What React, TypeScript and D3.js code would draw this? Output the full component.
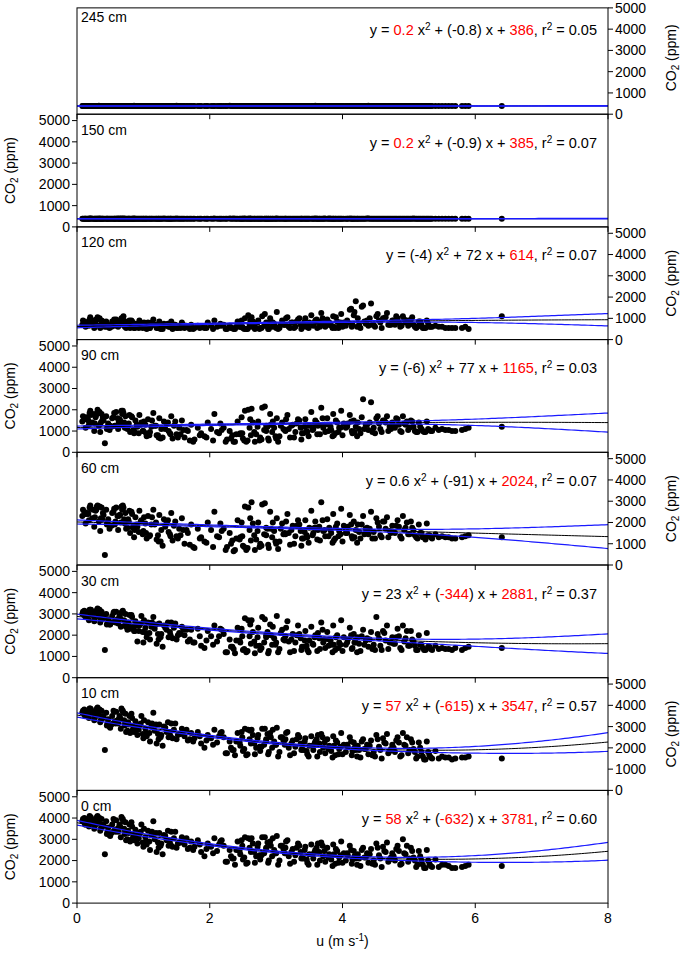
import React from "react";
import * as d3 from "d3";

// wind speed u (m s-1), shared by every height
const windU = [
  0.08, 0.11, 0.13, 0.16, 0.18, 0.21, 0.23, 0.26, 0.28, 0.3, 0.33, 0.35, 0.37, 0.4, 0.42, 0.44, 0.47, 0.49, 0.52, 0.55,
  0.57, 0.59, 0.62, 0.64, 0.66, 0.69, 0.71, 0.73, 0.76, 0.78, 0.8, 0.83, 0.86, 0.88, 0.91, 0.94, 0.97, 1.0, 1.03, 1.07,
  1.1, 1.13, 1.17, 1.2, 1.24, 1.27, 1.31, 1.35, 1.38, 1.42, 1.46, 1.5, 1.54, 1.58, 1.62, 1.67, 1.72, 1.77, 1.82, 1.87,
  1.92, 1.97, 2.02, 2.07, 2.11, 2.16, 2.21, 2.26, 2.3, 2.34, 2.38, 2.42, 2.46, 2.5, 2.53, 2.57, 2.6, 2.63, 2.67, 2.7,
  2.73, 2.76, 2.79, 2.82, 2.85, 2.88, 2.91, 2.94, 2.97, 3.01, 3.05, 3.09, 3.13, 3.17, 3.21, 3.25, 3.29, 3.33, 3.37, 3.41,
  3.44, 3.47, 3.5, 3.53, 3.56, 3.59, 3.62, 3.65, 3.68, 3.71, 3.74, 3.77, 3.8, 3.83, 3.86, 3.89, 3.92, 3.95, 3.98, 4.02,
  4.05, 4.08, 4.11, 4.14, 4.17, 4.2, 4.23, 4.27, 4.31, 4.35, 4.39, 4.43, 4.47, 4.51, 4.55, 4.59, 4.63, 4.67, 4.71, 4.75,
  4.79, 4.83, 4.87, 4.91, 4.95, 4.99, 5.03, 5.07, 5.11, 5.15, 5.19, 5.23, 5.27, 5.31, 5.4, 5.5, 5.6, 5.7, 5.8, 5.9,
  0.14, 0.24, 0.31, 0.38, 0.5, 0.61, 0.67, 0.74, 0.82, 0.9, 0.99, 1.15, 1.29, 1.48, 2.45, 2.55, 2.65, 2.85, 2.95, 3.07,
  3.19, 3.31, 3.46, 3.58, 3.7, 3.82, 3.94, 4.13, 4.25, 4.37, 4.49, 4.61, 4.73, 4.85, 4.97, 5.09, 5.21, 5.35, 5.55, 6.4,
  0.09, 0.17, 0.27, 0.34, 0.45, 0.53, 0.63, 0.7, 0.77, 0.85, 0.93, 1.01, 1.09, 1.19, 1.26, 1.33, 1.4, 1.52, 1.6, 1.7,
  0.12, 0.2, 0.29, 0.36, 0.46, 0.56, 0.65, 0.72, 0.79, 0.87, 0.96, 1.05, 1.12, 1.22, 1.37, 1.44, 1.56, 1.65, 1.75, 1.85,
  1.95, 2.05, 2.14, 2.24, 2.32, 2.4, 2.48, 2.52, 2.58, 2.62, 2.68, 2.72, 2.78, 2.83, 2.89, 2.92, 2.99, 3.03, 3.11, 3.15,
  3.23, 3.27, 3.35, 3.39, 3.43, 3.49, 3.55, 3.61, 3.66, 3.73, 3.79, 3.85, 3.9, 3.97, 4.0, 4.07, 4.15, 4.22, 4.29, 4.33,
  4.41, 4.45, 4.53, 4.57, 4.65, 4.69, 4.77, 4.81, 4.89, 4.93, 5.01, 5.05, 5.13, 5.17, 5.25, 5.29, 5.33, 5.45, 5.65, 5.85,
  0.19, 0.39, 0.58, 0.68, 0.84, 1.04, 1.23, 1.41, 2.18, 2.36, 2.49, 2.61, 2.75, 2.87, 3.0, 3.14, 3.38, 3.63, 3.87, 4.18,
];

// CO2 (ppm) at each height, same order as windU
const co2_245 = [
  386, 390, 383, 388, 384, 391, 386, 381, 389, 385, 392, 383, 387, 386, 382, 390, 384, 388, 385, 387,
  384, 389, 386, 382, 391, 385, 388, 383, 390, 386, 381, 387, 392, 384, 388, 385, 383, 390, 386, 389,
  387, 383, 390, 385, 388, 382, 391, 386, 384, 389, 385, 392, 383, 387, 386, 381, 390, 384, 388, 385,
  385, 388, 384, 391, 386, 383, 389, 385, 392, 384, 387, 382, 390, 386, 388, 383, 391, 385, 387, 384,
  389, 384, 387, 383, 390, 386, 382, 388, 385, 391, 384, 387, 386, 389, 383, 390, 385, 388, 384, 386,
  383, 390, 386, 388, 384, 392, 385, 387, 383, 389, 386, 384, 391, 385, 388, 382, 390, 386, 387, 385,
  388, 385, 391, 384, 387, 383, 390, 386, 389, 384, 392, 385, 387, 383, 388, 386, 390, 384, 389, 386,
  386, 389, 384, 390, 385, 388, 383, 391, 386, 387, 384, 389, 385, 388, 386, 390, 385, 387, 384, 388,
  390, 385, 388, 383, 387, 391, 384, 386, 389, 385, 382, 388, 386, 390, 384, 387, 385, 389, 386, 383,
  385, 388, 386, 390, 384, 387, 383, 389, 385, 391, 386, 384, 388, 385, 390, 386, 387, 384, 386, 387,
  387, 384, 390, 386, 383, 389, 385, 391, 384, 388, 386, 382, 390, 385, 387, 384, 389, 386, 383, 388,
  384, 391, 385, 388, 386, 383, 390, 384, 387, 385, 389, 386, 382, 388, 385, 390, 384, 387, 386, 389,
  388, 383, 386, 390, 385, 387, 384, 391, 386, 383, 389, 385, 388, 384, 390, 386, 387, 383, 389, 385,
  386, 390, 384, 387, 385, 389, 383, 388, 386, 391, 384, 387, 385, 390, 386, 383, 388, 385, 389, 384,
  385, 388, 387, 383, 390, 386, 384, 389, 385, 387, 383, 390, 386, 388, 384, 387, 385, 389, 386, 385,
  389, 385, 387, 384, 390, 386, 383, 388, 385, 391, 386, 384, 389, 385, 387, 383, 390, 386, 388, 384,
];
const co2_150 = [
  385, 389, 382, 387, 383, 390, 385, 380, 388, 384, 391, 382, 386, 385, 381, 389, 383, 387, 384, 386,
  383, 388, 385, 381, 390, 384, 387, 382, 389, 385, 380, 386, 391, 383, 387, 384, 382, 389, 385, 388,
  386, 382, 389, 384, 387, 381, 390, 385, 383, 388, 384, 391, 382, 386, 385, 380, 389, 383, 387, 384,
  384, 387, 383, 390, 385, 382, 388, 384, 391, 383, 386, 381, 389, 385, 387, 382, 390, 384, 386, 383,
  388, 383, 386, 382, 389, 385, 381, 387, 384, 390, 383, 386, 385, 388, 382, 389, 384, 387, 383, 385,
  382, 389, 385, 387, 383, 391, 384, 386, 382, 388, 385, 383, 390, 384, 387, 381, 389, 385, 386, 384,
  387, 384, 390, 383, 386, 382, 389, 385, 388, 383, 391, 384, 386, 382, 387, 385, 389, 383, 388, 385,
  385, 388, 383, 389, 384, 387, 382, 390, 385, 386, 383, 388, 384, 387, 385, 389, 384, 386, 383, 387,
  389, 384, 387, 382, 386, 390, 383, 385, 388, 384, 381, 387, 385, 389, 383, 386, 384, 388, 385, 382,
  384, 387, 385, 389, 383, 386, 382, 388, 384, 390, 385, 383, 387, 384, 389, 385, 386, 383, 385, 386,
  386, 383, 389, 385, 382, 388, 384, 390, 383, 387, 385, 381, 389, 384, 386, 383, 388, 385, 382, 387,
  383, 390, 384, 387, 385, 382, 389, 383, 386, 384, 388, 385, 381, 387, 384, 389, 383, 386, 385, 388,
  387, 382, 385, 389, 384, 386, 383, 390, 385, 382, 388, 384, 387, 383, 389, 385, 386, 382, 388, 384,
  385, 389, 383, 386, 384, 388, 382, 387, 385, 390, 383, 386, 384, 389, 385, 382, 387, 384, 388, 383,
  384, 387, 386, 382, 389, 385, 383, 388, 384, 386, 382, 389, 385, 387, 383, 386, 384, 388, 385, 384,
  388, 384, 386, 383, 389, 385, 382, 387, 384, 390, 385, 383, 388, 384, 386, 382, 389, 385, 387, 383,
];
const co2_120 = [
  700, 850, 600, 800, 650, 900, 700, 550, 850, 950, 650, 550, 900, 750, 600, 850, 700, 550, 600, 800,
  650, 950, 600, 800, 700, 1000, 700, 850, 600, 700, 550, 850, 550, 750, 650, 900, 750, 600, 650, 800,
  550, 800, 700, 550, 850, 650, 750, 700, 600, 850, 700, 550, 650, 800, 550, 600, 700, 550, 650, 600,
  550, 800, 650, 900, 600, 750, 700, 500, 650, 550, 500, 850, 600, 550, 1000, 500, 700, 1050, 600, 550,
  900, 550, 1100, 650, 800, 500, 1000, 600, 750, 1300, 550, 900, 700, 1050, 550, 800, 600, 950, 700, 600,
  1000, 600, 800, 1150, 650, 900, 550, 800, 1250, 700, 600, 950, 800, 650, 1100, 550, 850, 700, 1200, 800,
  650, 800, 1400, 600, 1150, 1800, 1000, 550, 1600, 750, 650, 1700, 700, 1100, 900, 550, 1000, 1250, 700, 900,
  700, 1000, 600, 1100, 800, 650, 950, 700, 550, 850, 700, 550, 900, 600, 650, 600, 550, 550, 550, 500,
  800, 900, 1050, 700, 600, 750, 1000, 550, 900, 650, 550, 950, 500, 700, 600, 500, 850, 650, 800, 700,
  600, 850, 600, 800, 1000, 700, 550, 1450, 700, 900, 600, 1000, 700, 800, 900, 600, 550, 600, 550, 1100,
  900, 800, 700, 1000, 600, 850, 750, 1100, 650, 600, 550, 800, 550, 700, 500, 650, 600, 550, 700, 500,
  800, 1050, 950, 700, 650, 950, 800, 600, 900, 550, 700, 500, 650, 550, 750, 500, 550, 650, 500, 550,
  550, 500, 650, 500, 550, 600, 900, 500, 1150, 600, 500, 800, 550, 1200, 500, 850, 600, 500, 700, 1000,
  800, 550, 1000, 650, 850, 550, 750, 950, 600, 900, 700, 550, 1050, 800, 600, 900, 700, 600, 1550, 850,
  1000, 700, 1200, 800, 1050, 700, 900, 1100, 650, 950, 800, 1050, 600, 850, 550, 750, 600, 600, 550, 600,
  950, 850, 700, 1000, 600, 550, 550, 600, 650, 500, 600, 900, 500, 750, 550, 700, 500, 850, 600, 1300,
];
const co2_90 = [
  1450, 1600, 1150, 1550, 1300, 1750, 1400, 1000, 1650, 1850, 1250, 950, 1800, 1500, 420, 1700, 1350, 1050, 1200, 1650,
  1250, 1900, 1100, 1550, 1300, 1950, 1400, 1700, 1100, 1350, 950, 1650, 900, 1500, 1200, 1750, 1400, 1000, 1300, 1550,
  950, 1500, 1250, 800, 1600, 1100, 1450, 1350, 1000, 1700, 1250, 850, 1150, 1500, 700, 1000, 1300, 600, 1150, 900,
  750, 1400, 1100, 1800, 950, 1350, 1150, 600, 1000, 800, 500, 1450, 900, 650, 1950, 550, 1150, 2050, 950, 850,
  1450, 700, 2100, 1050, 1250, 650, 1800, 950, 1150, 1600, 750, 1400, 1050, 1750, 700, 1300, 950, 1550, 1150, 900,
  1550, 950, 1250, 1900, 1100, 1500, 850, 1300, 2100, 1150, 950, 1600, 1300, 1050, 1800, 900, 1400, 1150, 1950, 1350,
  1150, 1350, 1750, 1000, 1500, 1200, 1400, 900, 2500, 1300, 1050, 2350, 1150, 1600, 1350, 950, 1500, 1700, 1200, 1400,
  1150, 1550, 1000, 1700, 1300, 1050, 1500, 1200, 950, 1400, 1100, 950, 1450, 1050, 1150, 1100, 1050, 1000, 1050, 1150,
  1650, 1800, 2000, 1500, 1250, 1600, 1950, 1150, 1700, 1300, 1000, 1850, 700, 1450, 850, 500, 1400, 1000, 1450, 1250,
  1100, 1350, 1000, 1300, 1600, 1200, 950, 1450, 1100, 1300, 900, 1500, 1100, 1300, 1450, 1000, 1000, 1000, 1050, 1200,
  1700, 1500, 1350, 1900, 1100, 1600, 1450, 1850, 1300, 1050, 900, 1450, 800, 1250, 650, 1100, 900, 700, 1050, 550,
  1550, 1950, 1750, 1400, 1200, 1850, 1500, 1150, 1750, 950, 1300, 750, 1200, 800, 1400, 650, 850, 1050, 500, 800,
  700, 550, 900, 500, 650, 850, 1650, 550, 2000, 800, 500, 1200, 600, 2150, 550, 1300, 750, 500, 1100, 1550,
  1250, 700, 1500, 900, 1200, 750, 1050, 1400, 850, 1300, 1000, 750, 1500, 1150, 800, 1200, 900, 750, 1650, 1100,
  1400, 950, 1700, 1100, 1400, 1000, 1250, 1600, 950, 1350, 1150, 1450, 950, 1200, 950, 1100, 1000, 1050, 1000, 1100,
  1850, 1650, 1250, 1800, 1000, 900, 700, 850, 1050, 500, 900, 1550, 550, 1200, 650, 1000, 600, 1250, 800, 950,
];
const co2_60 = [
  2300, 2500, 1950, 2450, 2100, 2650, 2200, 1800, 2550, 2750, 2050, 1600, 2700, 2350, 470, 2600, 2150, 1700, 1850, 2500,
  1900, 2700, 1650, 2350, 2000, 2800, 2150, 2450, 1750, 2050, 1500, 2400, 1300, 2250, 1800, 2550, 2100, 1600, 1950, 2300,
  1400, 2250, 1900, 1200, 2350, 1650, 2150, 2000, 1550, 2450, 1850, 1350, 1700, 2200, 1000, 1500, 1900, 800, 1700, 1300,
  1100, 2000, 1650, 2500, 1350, 1950, 1700, 850, 1500, 1150, 700, 2100, 1300, 900, 2750, 800, 1650, 2950, 1400, 1200,
  2000, 1000, 2850, 1450, 1750, 950, 2500, 1300, 1600, 2200, 1100, 1950, 1500, 2400, 950, 1850, 1350, 2100, 1600, 1250,
  2100, 1300, 1750, 2550, 1500, 2050, 1200, 1800, 2950, 1600, 1350, 2150, 1750, 1500, 2400, 1250, 1950, 1600, 2650, 1850,
  1500, 1800, 2350, 1350, 2050, 1650, 1900, 1250, 2300, 1700, 1450, 2500, 1550, 2200, 1800, 1300, 2050, 2250, 1600, 1850,
  1500, 2100, 1350, 2300, 1750, 1450, 2050, 1650, 1300, 1900, 1500, 1300, 1950, 1400, 1450, 1350, 1300, 1250, 1300, 1400,
  2400, 2600, 2800, 2150, 1850, 2300, 2750, 1700, 2500, 1900, 1450, 2600, 900, 2050, 1200, 700, 1950, 1400, 2000, 1700,
  1500, 1850, 1400, 1750, 2100, 1650, 1350, 1900, 1550, 1750, 1250, 2050, 1500, 1800, 2000, 1400, 1300, 1250, 1300, 1300,
  2600, 2400, 2250, 2750, 1900, 2450, 2300, 2700, 2150, 1850, 1550, 2250, 1350, 2000, 1100, 1800, 1450, 1250, 1650, 950,
  2400, 2800, 2600, 2200, 2000, 2650, 2350, 1950, 2550, 1650, 2050, 1250, 1900, 1400, 2100, 1150, 1400, 1650, 850, 1250,
  1050, 850, 1300, 700, 1000, 1250, 2000, 850, 2700, 1150, 700, 1600, 900, 2900, 800, 1700, 1100, 750, 1450, 2050,
  1650, 1000, 1900, 1250, 1550, 1050, 1400, 1750, 1150, 1650, 1350, 1050, 1800, 1450, 1100, 1500, 1250, 1050, 1900, 1450,
  1700, 1250, 2000, 1400, 1700, 1300, 1550, 1850, 1250, 1650, 1450, 1750, 1250, 1500, 1200, 1400, 1300, 1300, 1250, 1350,
  2700, 2450, 2050, 2600, 1750, 1500, 1100, 1350, 1600, 650, 1350, 2200, 850, 1700, 1000, 1450, 900, 1650, 1150, 1300,
];
const co2_30 = [
  3000, 3150, 2850, 3100, 2700, 3200, 2950, 2650, 3050, 3180, 2900, 2600, 3100, 2800, 1300, 3000, 2750, 2500, 2600, 3050,
  2650, 3100, 2550, 2900, 2400, 3150, 2700, 3000, 2250, 2500, 2300, 2850, 2200, 2650, 1700, 2450, 2900, 1650, 2350, 2600,
  1800, 2600, 2300, 1600, 2550, 2050, 2450, 2250, 1900, 2600, 2350, 1800, 2100, 2400, 2000, 1700, 2250, 1650, 2300, 1500,
  1400, 2200, 1950, 2450, 1700, 2300, 2050, 1200, 1800, 1450, 1150, 2350, 1650, 1300, 2800, 1250, 1950, 2700, 1700, 1500,
  2350, 1300, 2850, 1650, 2000, 1150, 2500, 1550, 1850, 2900, 1350, 2250, 1750, 2650, 1200, 2050, 1650, 2450, 1850, 1450,
  2200, 1300, 1750, 2400, 1550, 2000, 1250, 1850, 2600, 1650, 1400, 2150, 1800, 1550, 2450, 1300, 2000, 1650, 2700, 1900,
  1550, 1800, 2350, 1350, 2050, 1650, 1900, 1250, 2250, 1750, 1450, 2150, 1550, 2850, 1850, 1300, 2100, 2450, 1650, 1900,
  1600, 2300, 1400, 2450, 1850, 1500, 2200, 1700, 1300, 2000, 1550, 1300, 2100, 1450, 1500, 1400, 1350, 1400, 1300, 1450,
  2900, 3100, 3250, 2850, 2500, 2750, 3050, 2400, 2950, 2450, 2150, 2850, 1450, 2550, 1750, 1200, 2150, 1900, 2400, 2100,
  1700, 2000, 1500, 1900, 2250, 1750, 1400, 2000, 1600, 1850, 1300, 2200, 1650, 1950, 2200, 1500, 1400, 1300, 1350, 1400,
  3100, 2950, 2800, 3200, 2500, 2900, 2750, 3050, 2600, 2400, 2200, 2700, 2100, 2500, 1900, 2350, 2150, 2000, 2250, 1800,
  2900, 3200, 3050, 2700, 2550, 3100, 2800, 2450, 2950, 2200, 2550, 1900, 2400, 2050, 2600, 1850, 2050, 2250, 1650, 1950,
  1750, 1550, 1950, 1200, 1450, 1750, 2300, 1350, 2700, 1600, 1150, 1900, 1400, 2750, 1250, 2000, 1550, 1200, 1800, 2350,
  1800, 1250, 2050, 1450, 1750, 1200, 1600, 1950, 1350, 1800, 1500, 1200, 1900, 1550, 1250, 1650, 1400, 1200, 1950, 1550,
  1800, 1350, 2050, 1500, 1750, 1350, 1600, 1900, 1300, 1700, 1500, 1800, 1300, 1550, 1300, 1450, 1350, 1350, 1300, 1400,
  3200, 2950, 2600, 3100, 2350, 2100, 1800, 2000, 2250, 1350, 1950, 2500, 1500, 2150, 1650, 1950, 1300, 2100, 1550, 1650,
];
const co2_10 = [
  3650, 3800, 3500, 3750, 3400, 3820, 3600, 3300, 3700, 3850, 3550, 3200, 3750, 3450, 1900, 3650, 3350, 3000, 3100, 3750,
  3250, 3700, 3150, 3500, 2900, 3750, 3300, 3600, 2800, 3100, 2700, 3400, 2750, 3250, 2600, 3050, 3500, 2450, 2900, 3200,
  2300, 3150, 2800, 2200, 3100, 2600, 3000, 2750, 2500, 3150, 2850, 2400, 2650, 2900, 2550, 2350, 2700, 2450, 2750, 2200,
  2000, 2600, 2450, 2850, 2250, 2700, 2500, 1750, 2300, 1900, 1650, 2700, 2100, 1850, 2900, 1700, 2400, 2850, 2200, 2000,
  2600, 1850, 2900, 2150, 2400, 1700, 2700, 2000, 2300, 2950, 1800, 2500, 2150, 2750, 1650, 2350, 2050, 2600, 2200, 1900,
  2450, 1700, 2100, 2550, 1900, 2300, 1600, 2200, 2650, 2000, 1750, 2400, 2100, 1850, 2550, 1650, 2250, 1950, 2700, 2150,
  1800, 2050, 2500, 1650, 2250, 1900, 2100, 1550, 2400, 1950, 1700, 2350, 1800, 2600, 2050, 1500, 2250, 2650, 1850, 2150,
  1800, 2500, 1600, 2700, 2100, 1750, 2400, 1950, 1500, 2250, 1800, 1450, 2300, 1650, 1850, 1600, 1550, 1500, 1550, 1600,
  3550, 3700, 3900, 3400, 2950, 3300, 3850, 2750, 3600, 2950, 2650, 3650, 2100, 3150, 2250, 1650, 2600, 2350, 2850, 2500,
  2000, 2400, 1850, 2200, 2500, 2000, 1700, 2300, 1900, 2150, 1600, 2450, 1950, 2250, 2500, 1800, 1600, 1500, 1550, 1500,
  3750, 3600, 3450, 3800, 3050, 3500, 3350, 3650, 3200, 3000, 2850, 3300, 2700, 3100, 2500, 2950, 2750, 2600, 2800, 2400,
  3500, 3850, 3650, 3300, 3150, 3700, 3400, 3050, 3500, 2800, 3150, 2550, 3000, 2650, 3200, 2450, 2650, 2850, 2300, 2550,
  2350, 2150, 2550, 1750, 2000, 2300, 2750, 1950, 2850, 2200, 1700, 2450, 2050, 2900, 1800, 2500, 2150, 1600, 2350, 2700,
  2200, 1750, 2500, 1950, 2300, 1600, 2100, 2400, 1800, 2250, 1950, 1550, 2350, 2050, 1700, 2150, 1850, 1600, 2300, 1950,
  2100, 1650, 2400, 1900, 2200, 1750, 2000, 2350, 1650, 2150, 1900, 2250, 1600, 2000, 1450, 1800, 1550, 1500, 1450, 1550,
  3850, 3500, 3150, 3750, 2850, 2700, 2400, 2550, 2750, 1900, 2500, 2800, 2050, 2650, 2150, 2400, 1900, 2600, 2100, 2000,
];
const co2_0 = [
  3850, 4000, 3700, 3950, 3600, 4020, 3800, 3500, 3900, 4050, 3750, 3400, 3950, 3650, 2300, 3850, 3550, 3200, 3300, 3950,
  3450, 3900, 3350, 3700, 3100, 3950, 3500, 3800, 3000, 3300, 2900, 3600, 2950, 3450, 2800, 3250, 3700, 2650, 3100, 3400,
  2500, 3350, 3000, 2400, 3300, 2800, 3200, 2950, 2700, 3350, 3050, 2600, 2850, 3100, 2750, 2550, 2900, 2650, 2950, 2400,
  2200, 2800, 2650, 3050, 2450, 2900, 2700, 1950, 2500, 2100, 1800, 2900, 2300, 2050, 3100, 1900, 2600, 3050, 2400, 2200,
  2800, 2050, 3100, 2350, 2600, 1900, 2900, 2200, 2500, 3150, 2000, 2700, 2350, 2950, 1850, 2550, 2250, 2800, 2400, 2100,
  2650, 1900, 2300, 2750, 2100, 2500, 1800, 2400, 2850, 2200, 1950, 2600, 2300, 2050, 2750, 1850, 2450, 2150, 2900, 2350,
  2000, 2250, 2700, 1850, 2450, 2100, 2300, 1750, 2600, 2150, 1900, 2550, 2000, 2800, 2250, 1700, 2450, 2850, 2050, 2350,
  2000, 2700, 1800, 3000, 2300, 1950, 2600, 2150, 1700, 2450, 2000, 1650, 2500, 1850, 2050, 1800, 1750, 1650, 1700, 1800,
  3750, 3900, 4100, 3600, 3150, 3500, 4050, 2950, 3800, 3150, 2850, 3850, 2300, 3350, 2450, 1850, 2800, 2550, 3050, 2700,
  2200, 2600, 2050, 2400, 2700, 2200, 1900, 2500, 2100, 2350, 1800, 2650, 2150, 2450, 2700, 2000, 1800, 1700, 1800, 1750,
  3950, 3800, 3650, 4000, 3250, 3700, 3550, 3850, 3400, 3200, 3050, 3500, 2900, 3300, 2700, 3150, 2950, 2800, 3000, 2600,
  3700, 4050, 3850, 3500, 3350, 3900, 3600, 3250, 3700, 3000, 3350, 2750, 3200, 2850, 3400, 2650, 2850, 3050, 2500, 2750,
  2550, 2350, 2750, 1950, 2200, 2500, 2950, 2150, 3050, 2400, 1900, 2650, 2250, 3100, 2000, 2700, 2350, 1800, 2550, 2900,
  2400, 1950, 2700, 2150, 2500, 1800, 2300, 2600, 2000, 2450, 2150, 1750, 2550, 2250, 1900, 2350, 2050, 1800, 2500, 2150,
  2300, 1850, 2600, 2100, 2400, 1950, 2200, 2550, 1850, 2350, 2100, 2450, 1800, 2200, 1650, 2000, 1750, 1700, 1650, 1750,
  4100, 3700, 3350, 3950, 3050, 2900, 2600, 2750, 2950, 2100, 2700, 3000, 2250, 2850, 2350, 2600, 2100, 2800, 2300, 2200,
];

const heights = ["245 cm", "150 cm", "120 cm", "90 cm", "60 cm", "30 cm", "10 cm", "0 cm"];
const series = [co2_245, co2_150, co2_120, co2_90, co2_60, co2_30, co2_10, co2_0];

// quadratic fit y = a x^2 + b x + c
const coefA = [0.2, 0.2, -4, -6, 0.6, 23, 57, 58];
const coefB = [-0.8, -0.9, 72, 77, -91, -344, -615, -632];
const coefC = [386, 385, 614, 1165, 2024, 2881, 3547, 3781];
const r2 = ["0.05", "0.07", "0.07", "0.03", "0.07", "0.37", "0.57", "0.60"];
const redA = [true, true, false, false, false, false, true, true];
const redB = [false, false, false, false, false, true, true, true];

// confidence band half width (ppm) at u = 0,1,...,8
const bandHalf = [
  [6, 4, 3, 3, 3, 4, 6, 8, 10],
  [6, 4, 3, 3, 3, 4, 6, 8, 10],
  [60, 35, 25, 25, 30, 45, 90, 180, 290],
  [70, 40, 30, 30, 35, 60, 140, 280, 450],
  [95, 55, 40, 35, 40, 80, 190, 360, 560],
  [110, 60, 45, 40, 45, 75, 160, 300, 460],
  [100, 60, 45, 40, 45, 70, 150, 280, 440],
  [110, 60, 45, 40, 45, 70, 150, 270, 420],
];

const yTicks = [0, 1000, 2000, 3000, 4000, 5000];
const xTicks = [0, 2, 4, 6, 8];

const W = 685;
const H = 960;
const plotLeft = 77;
const plotRight = 608;
const firstTop = 1.5;
const panelH = 112.7;
const fs = 14;

const x = d3.scaleLinear().domain([0, 8]).range([plotLeft, plotRight]);
const fine = d3.range(0, 8.0001, 0.05);

const Equation: React.FC<{ i: number; top: number }> = ({ i, top }) => {
  const a = coefA[i];
  const b = coefB[i];
  return (
    <text x={plotRight - 11} y={top + 33.5} fontSize={14.5} textAnchor="end" fill="#000">
      <tspan>{"y = "}</tspan>
      {a < 0 ? (
        <tspan>{`(${a})`}</tspan>
      ) : (
        <tspan fill={redA[i] ? "#ff0000" : "#000"}>{a}</tspan>
      )}
      <tspan>{" x"}</tspan>
      <tspan dy={-5} fontSize={10}>2</tspan>
      <tspan dy={5}>{" + "}</tspan>
      {b < 0 ? (
        <>
          <tspan>(</tspan>
          <tspan fill={redB[i] ? "#ff0000" : "#000"}>{b}</tspan>
          <tspan>)</tspan>
        </>
      ) : (
        <tspan fill={redB[i] ? "#ff0000" : "#000"}>{b}</tspan>
      )}
      <tspan>{" x + "}</tspan>
      <tspan fill="#ff0000">{coefC[i]}</tspan>
      <tspan>{", r"}</tspan>
      <tspan dy={-5} fontSize={10}>2</tspan>
      <tspan dy={5}>{` = ${r2[i]}`}</tspan>
    </text>
  );
};

const Panel: React.FC<{ i: number }> = ({ i }) => {
  const top = firstTop + i * panelH;
  const bottom = top + panelH;
  const y = d3.scaleLinear().domain([0, 5300]).range([bottom, top]);
  // the uppermost panel is closed at 5000
  const boxTop = i === 0 ? y(5000) : top;
  const fit = (t: number) => coefA[i] * t * t + coefB[i] * t + coefC[i];
  const hw = d3.interpolateBasis(bandHalf[i]);
  const path = (fn: (t: number) => number) =>
    d3
      .line<number>()
      .x((t) => x(t))
      .y((t) => y(fn(t)))(fine) as string;
  const rightSide = i % 2 === 0;
  const axisX = rightSide ? plotRight : plotLeft;
  const dir = rightSide ? 1 : -1;
  const vals = series[i];
  const mid = (top + bottom) / 2;
  return (
    <g>
      <defs>
        <clipPath id={`clip${i}`}>
          <rect x={plotLeft} y={boxTop} width={plotRight - plotLeft} height={bottom - boxTop} />
        </clipPath>
      </defs>
      <g clipPath={`url(#clip${i})`}>
        {windU.map((u, j) => (
          <circle key={j} cx={x(u)} cy={y(vals[j])} r={3} fill="#000" />
        ))}
        <path d={path(fit)} fill="none" stroke="#000" strokeWidth={1} />
        <path d={path((t) => fit(t) + hw(t / 8))} fill="none" stroke="#1a1aff" strokeWidth={1.2} />
        <path d={path((t) => fit(t) - hw(t / 8))} fill="none" stroke="#1a1aff" strokeWidth={1.2} />
      </g>
      <rect
        x={plotLeft}
        y={boxTop}
        width={plotRight - plotLeft}
        height={bottom - boxTop}
        fill="none"
        stroke="#000"
        strokeWidth={1}
      />
      {/* x ticks on the lower edge */}
      {xTicks.map((t) => (
        <line key={`xt${t}`} x1={x(t)} x2={x(t)} y1={bottom} y2={bottom + 5} stroke="#000" />
      ))}
      {/* y axis */}
      {yTicks.map((t) => (
        <g key={`yt${t}`}>
          <line x1={axisX} x2={axisX + dir * 5} y1={y(t)} y2={y(t)} stroke="#000" />
          <text
            x={axisX + dir * 7}
            y={y(t)}
            dy="0.35em"
            fontSize={fs}
            textAnchor={rightSide ? "start" : "end"}
          >
            {t}
          </text>
        </g>
      ))}
      <text
        transform={`translate(${rightSide ? 676 : 15},${mid}) rotate(-90)`}
        fontSize={fs}
        textAnchor="middle"
      >
        CO
        <tspan dy={3} fontSize={10}>2</tspan>
        <tspan dy={-3}> (ppm)</tspan>
      </text>
      <text x={plotLeft + 4} y={top + 20.5} fontSize={fs}>
        {heights[i]}
      </text>
      <Equation i={i} top={top} />
    </g>
  );
};

export default function App() {
  const bottom = firstTop + 8 * panelH;
  return (
    <svg
      width={W}
      height={H}
      style={{ position: "absolute", left: 0, top: 0, fontFamily: "Arial, 'Liberation Sans', sans-serif" }}
    >
      <rect width={W} height={H} fill="#fff" />
      {heights.map((h, i) => (
        <Panel key={h} i={i} />
      ))}
      {xTicks.map((t) => (
        <text key={`xl${t}`} x={x(t)} y={bottom + 20} fontSize={fs} textAnchor="middle">
          {t}
        </text>
      ))}
      <text x={(plotLeft + plotRight) / 2} y={bottom + 43} fontSize={fs} textAnchor="middle">
        u (m s<tspan dy={-5} fontSize={10}>-1</tspan>
        <tspan dy={5}>)</tspan>
      </text>
    </svg>
  );
}
